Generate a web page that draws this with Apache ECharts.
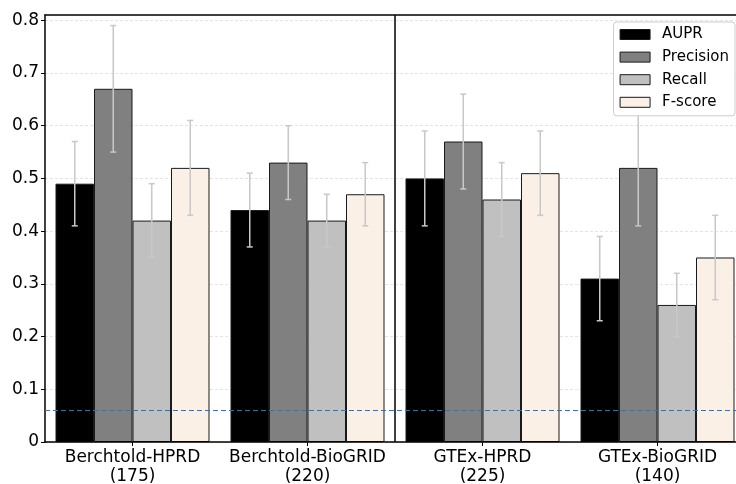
<!DOCTYPE html>
<html>
<head>
<meta charset="utf-8">
<script src="https://cdn.jsdelivr.net/npm/echarts@6/dist/echarts.min.js"></script>
<style>html,body{margin:0;padding:0;background:#fff}#c{width:736px;height:484px}</style>
</head>
<body>
<div id="c"></div>
<script>
// ---- data ----
const categories = ['Berchtold-HPRD\n(175)', 'Berchtold-BioGRID\n(220)', 'GTEx-HPRD\n(225)', 'GTEx-BioGRID\n(140)'];
const seriesNames = ['AUPR', 'Precision', 'Recall', 'F-score'];
const aupr      = [0.49, 0.44, 0.50, 0.31];
const precision = [0.67, 0.53, 0.57, 0.52];
const recall    = [0.42, 0.42, 0.46, 0.26];
const fscore    = [0.52, 0.47, 0.51, 0.35];
// error bar half-widths
const auprErr      = [0.08, 0.07, 0.09, 0.08];
const precisionErr = [0.12, 0.07, 0.09, 0.11];
const recallErr    = [0.07, 0.05, 0.07, 0.06];
const fscoreErr    = [0.09, 0.06, 0.08, 0.08];
const baseline = 0.06;
const separatorAt = 1.5;   // between 2nd and 3rd group
const yTicks = [0, 0.1, 0.2, 0.3, 0.4, 0.5, 0.6, 0.7, 0.8];

const values = [aupr, precision, recall, fscore];
const errs = [auprErr, precisionErr, recallErr, fscoreErr];
const colors = ['#000000', '#808080', '#c0c0c0', '#faf0e6'];
const barFrac = 0.22;
const font = 'DejaVu Sans';

const chart = echarts.init(document.getElementById('c'), null, {renderer: 'canvas'});

const barSeries = seriesNames.map((name, k) => ({
  name, type: 'bar', data: values[k],
  barWidth: (barFrac * 100) + '%', barGap: '0%',
  itemStyle: {color: colors[k], borderColor: '#1a1a1a', borderWidth: 1},
  z: 2
}));

const errSeries = seriesNames.map((name, k) => ({
  type: 'custom', silent: true, z: 5,
  data: values[k].map((v, i) => [i, v - errs[k][i], v + errs[k][i]]),
  renderItem: function (params, api) {
    const i = api.value(0);
    const lo = api.coord([i, api.value(1)]);
    const hi = api.coord([i, api.value(2)]);
    const band = api.size([1, 0])[0];
    const x = lo[0] + (k - 1.5) * barFrac * band;
    const cap = 3;
    const st = {stroke: '#c8c8c8', lineWidth: 1.5};
    return {type: 'group', children: [
      {type: 'line', shape: {x1: x, y1: lo[1], x2: x, y2: hi[1]}, style: st},
      {type: 'line', shape: {x1: x - cap, y1: lo[1], x2: x + cap, y2: lo[1]}, style: st},
      {type: 'line', shape: {x1: x - cap, y1: hi[1], x2: x + cap, y2: hi[1]}, style: st}
    ]};
  }
}));

const option = {
  animation: false,
  backgroundColor: '#fff',
  textStyle: {fontFamily: font},
  grid: {left: 45, right: -9, top: 15, bottom: 42, outerBoundsMode: 'none', containLabel: false},
  legend: {
    data: seriesNames, orient: 'vertical', right: 1, top: 22,
    itemWidth: 30, itemHeight: 10, itemGap: 7.6,
    icon: 'rect',
    padding: [5, 6, 6, 6],
    backgroundColor: '#fff', borderColor: '#cccccc', borderWidth: 1, borderRadius: 3,
    textStyle: {fontFamily: font, fontSize: 15, color: '#000', lineHeight: 15, padding: [0, 0, 0, 7]},
    itemStyle: {borderColor: '#1a1a1a', borderWidth: 1},
    z: 20
  },
  xAxis: [{
    type: 'category', data: categories, boundaryGap: true,
    axisLine: {show: true, onZero: false, lineStyle: {color: '#000', width: 1.5}},
    axisTick: {show: true, alignWithLabel: true, length: 4, lineStyle: {color: '#000', width: 1}},
    axisLabel: {fontFamily: font, fontSize: 17, color: '#000', lineHeight: 19, margin: 6, interval: 0},
    splitLine: {show: false},
    z: 10
  }, {
    type: 'value', position: 'top', min: -0.5, max: categories.length - 0.5,
    axisLine: {show: true, onZero: false, lineStyle: {color: '#000', width: 1.5}},
    axisTick: {show: false}, axisLabel: {show: false}, splitLine: {show: false},
    z: 10
  }],
  yAxis: {
    type: 'value', min: 0, max: 0.81, interval: 0.1,
    axisLine: {show: true, onZero: false, lineStyle: {color: '#000', width: 1.5}},
    axisTick: {show: true, length: 4, lineStyle: {color: '#000'}, customValues: yTicks},
    axisLabel: {fontFamily: font, fontSize: 17, color: '#000', margin: 6, customValues: yTicks,
      formatter: v => v === 0 ? '0' : v.toFixed(1)},
    splitLine: {show: true, lineStyle: {color: '#dddddd', type: [3, 2], width: 0.8}}
  },
  series: [
    ...barSeries,
    ...errSeries,
    {
      type: 'line', data: [], z: 6, silent: true,
      markLine: {
        silent: true, symbol: 'none', label: {show: false},
        lineStyle: {color: '#3b73a6', type: [5, 3], width: 1.2},
        data: [{yAxis: baseline}]
      }
    },
    {
      type: 'line', data: [], xAxisIndex: 1, z: 6, silent: true,
      markLine: {
        silent: true, symbol: 'none', label: {show: false},
        lineStyle: {color: '#000', type: 'solid', width: 1.5},
        data: [{xAxis: separatorAt}]
      }
    }
  ]
};
chart.setOption(option);
</script>
</body>
</html>
